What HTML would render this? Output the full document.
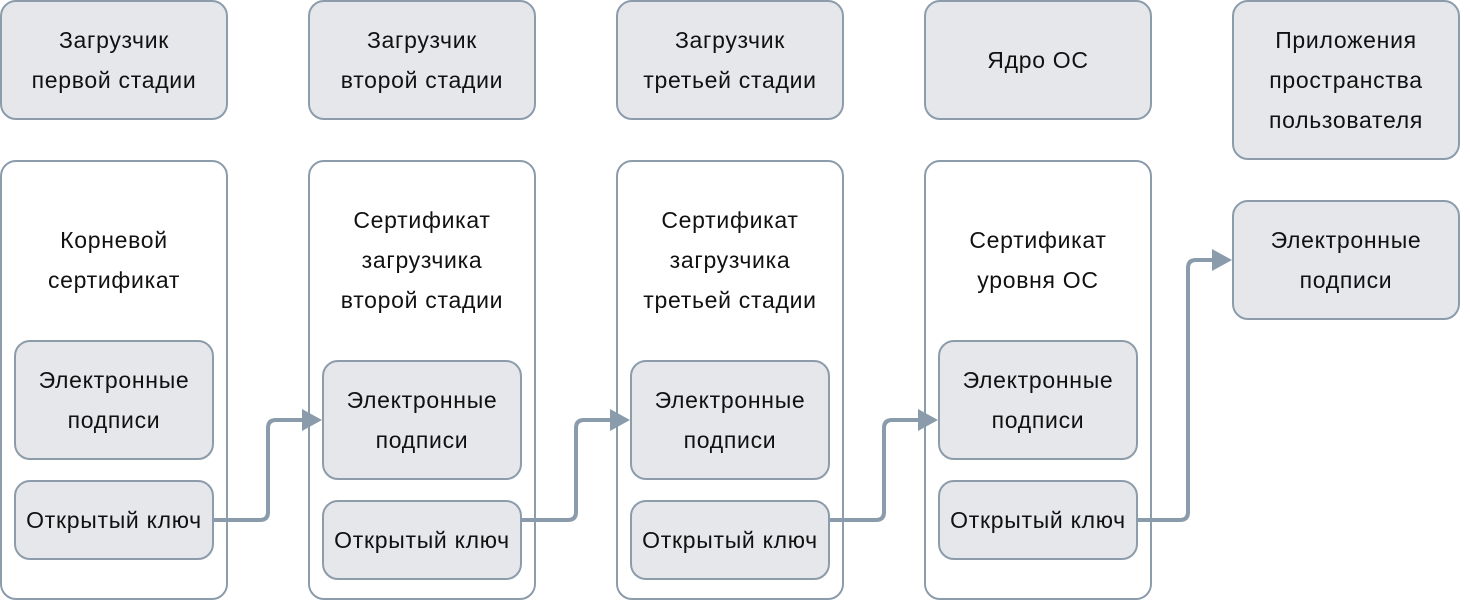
<!DOCTYPE html>
<html><head><meta charset="utf-8"><style>
body{margin:0;width:1460px;height:600px;background:#fff;position:relative;overflow:hidden;font-family:"Liberation Sans",sans-serif;}
.b{position:absolute;box-sizing:border-box;border:2px solid #8d9caa;border-radius:16px;background:#e5e7eb;display:flex;align-items:center;justify-content:center;text-align:center;font-size:23px;letter-spacing:0.7px;line-height:40px;color:#111;white-space:nowrap;}
.c{position:absolute;box-sizing:border-box;border:2px solid #8d9caa;border-radius:16px;background:#fff;}
.t{position:absolute;text-align:center;font-size:23px;letter-spacing:0.7px;line-height:40px;color:#111;white-space:nowrap;}
svg{position:absolute;left:0;top:0}
</style></head><body>
<div class="b" style="left:0;top:0;width:228px;height:120px">Загрузчик<br>первой стадии</div>
<div class="b" style="left:308px;top:0;width:228px;height:120px">Загрузчик<br>второй стадии</div>
<div class="b" style="left:616px;top:0;width:228px;height:120px">Загрузчик<br>третьей стадии</div>
<div class="b" style="left:924px;top:0;width:228px;height:120px">Ядро ОС</div>
<div class="b" style="left:1232px;top:0;width:228px;height:160px">Приложения<br>пространства<br>пользователя</div>

<div class="c" style="left:0;top:160px;width:228px;height:440px"></div>
<div class="c" style="left:308px;top:160px;width:228px;height:440px"></div>
<div class="c" style="left:616px;top:160px;width:228px;height:440px"></div>
<div class="c" style="left:924px;top:160px;width:228px;height:440px"></div>

<div class="t" style="left:0;top:220px;width:228px">Корневой<br>сертификат</div>
<div class="t" style="left:308px;top:200px;width:228px">Сертификат<br>загрузчика<br>второй стадии</div>
<div class="t" style="left:616px;top:200px;width:228px">Сертификат<br>загрузчика<br>третьей стадии</div>
<div class="t" style="left:924px;top:220px;width:228px">Сертификат<br>уровня ОС</div>

<div class="b" style="left:14px;top:340px;width:200px;height:120px">Электронные<br>подписи</div>
<div class="b" style="left:14px;top:480px;width:200px;height:80px">Открытый ключ</div>
<div class="b" style="left:322px;top:360px;width:200px;height:120px">Электронные<br>подписи</div>
<div class="b" style="left:322px;top:500px;width:200px;height:80px">Открытый ключ</div>
<div class="b" style="left:630px;top:360px;width:200px;height:120px">Электронные<br>подписи</div>
<div class="b" style="left:630px;top:500px;width:200px;height:80px">Открытый ключ</div>
<div class="b" style="left:938px;top:340px;width:200px;height:120px">Электронные<br>подписи</div>
<div class="b" style="left:938px;top:480px;width:200px;height:80px">Открытый ключ</div>
<div class="b" style="left:1232px;top:200px;width:228px;height:120px">Электронные<br>подписи</div>

<svg width="1460" height="600">
<g fill="none" stroke="#8a9bab" stroke-width="4">
<path d="M214 520 H260 Q268 520 268 512 V428 Q268 420 276 420 H304"/>
<path d="M522 520 H568 Q576 520 576 512 V428 Q576 420 584 420 H612"/>
<path d="M830 520 H876 Q884 520 884 512 V428 Q884 420 892 420 H920"/>
<path d="M1138 520 H1180 Q1188 520 1188 512 V268 Q1188 260 1196 260 H1214"/>
</g>
<g fill="#8a9bab">
<path d="M302 409 L322 420 L302 431Z"/>
<path d="M610 409 L630 420 L610 431Z"/>
<path d="M918 409 L938 420 L918 431Z"/>
<path d="M1212 249 L1232 260 L1212 271Z"/>
</g>
</svg>
</body></html>
